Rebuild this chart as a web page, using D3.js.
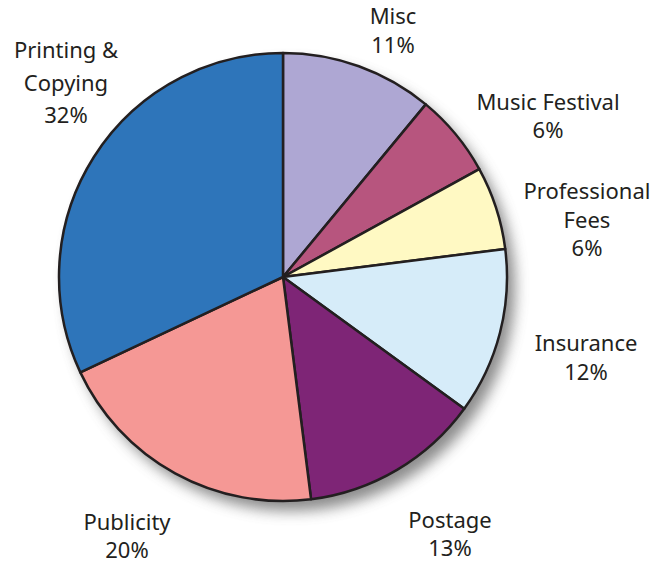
<!DOCTYPE html>
<html><head><meta charset="utf-8">
<script src="https://cdn.jsdelivr.net/npm/d3@7"></script>
<style>body{margin:0;background:#fff}svg{display:block}text{font-family:"Noto Sans",sans-serif;fill:#231f20;font-size:22px}</style>
</head><body>
<script>
const categories = ["Misc","Music Festival","Professional Fees","Insurance","Postage","Publicity","Printing & Copying"];
const values = [11,6,6,12,13,20,32];
const colors = ["#aea7d3","#b7557e","#fff9c3","#d6ecf9","#7e2576","#f59895","#2e75ba"];
const labelLines = [["Misc","11%"],["Music Festival","6%"],["Professional","Fees","6%"],["Insurance","12%"],["Postage","13%"],["Publicity","20%"],["Printing &","Copying","32%"]];
const labelPos = [[393,24,29],[548,110,28],[587,199,28.5],[586,351,29],[450,528,28],[127,530,28],[66,58,32.5]];

const W=667,H=565,cx=283,cy=277,R=224;
const svg=d3.select("body").append("svg").attr("width",W).attr("height",H);
const defs=svg.append("defs");
const f=defs.append("filter").attr("id","sh").attr("x","-20%").attr("y","-20%").attr("width","140%").attr("height","140%");
f.append("feGaussianBlur").attr("stdDeviation",7);
svg.append("circle").attr("cx",cx+8).attr("cy",cy+10).attr("r",R).attr("fill","#666").attr("filter","url(#sh)").attr("opacity",0.75);
const pie=d3.pie().sort(null).value(d=>d)(values);
const arc=d3.arc().innerRadius(0).outerRadius(R);
const g=svg.append("g").attr("transform",`translate(${cx},${cy})`);
g.selectAll("path").data(pie).join("path").attr("d",arc).attr("fill",(d,i)=>colors[i])
 .attr("stroke","#231f20").attr("stroke-width",2.5).attr("stroke-linejoin","round");
labelLines.forEach((lines,i)=>{
  const [x,y,dy]=labelPos[i];
  const t=svg.append("text").attr("text-anchor","middle");
  lines.forEach((l,j)=>t.append("tspan").attr("x",x).attr("y",y+j*dy).text(l));
});
</script>
</body></html>
